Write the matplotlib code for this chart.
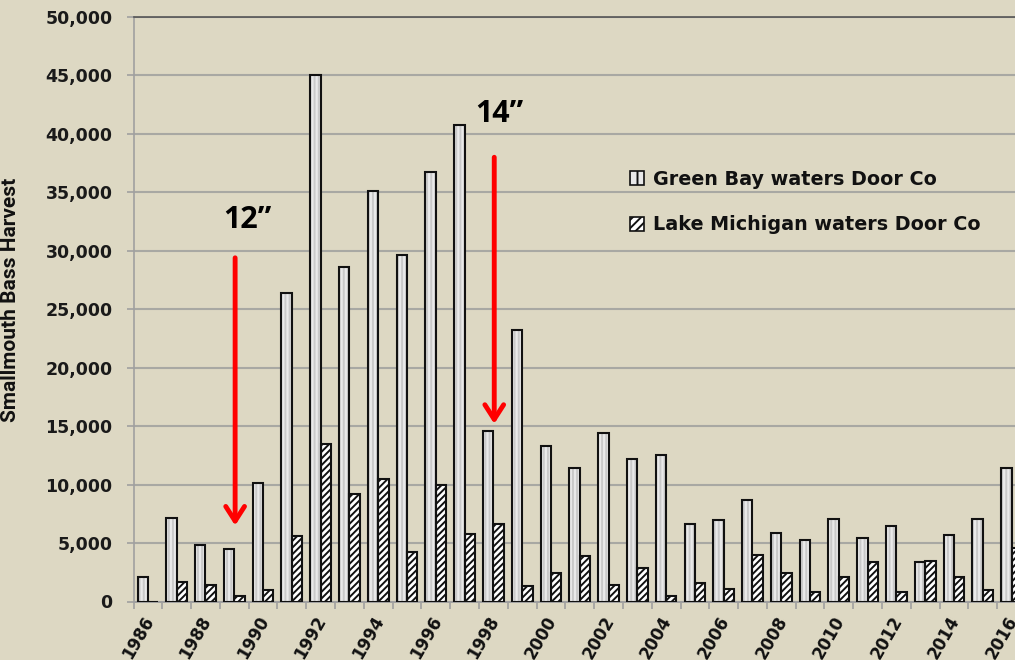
import matplotlib
matplotlib.use("Agg")
import matplotlib.pyplot as plt
import numpy as np
from matplotlib.patches import Patch
from matplotlib.ticker import FuncFormatter, FixedLocator
import matplotlib.transforms as mtrans

years = list(range(1986, 2017))
green_bay = [2100, 7150, 4850, 4450, 10150, 26400, 45000, 28600, 35150, 29600,
             36700, 40750, 14600, 23200, 13300, 11450, 14400, 12200, 12550, 6600,
             6950, 8650, 5850, 5250, 7030, 5400, 6500, 3350, 5700, 7100, 11400]
lake_michigan = [0, 1650, 1400, 480, 1000, 5600, 13450, 9200, 10450, 4250,
                 10000, 5800, 6600, 1300, 2400, 3900, 1450, 2900, 450, 1600,
                 1100, 3950, 2450, 780, 2060, 3350, 780, 3500, 2060, 950, 4550]
labels = ["Green Bay waters Door Co", "Lake Michigan waters Door Co"]
y_ticks = list(range(0, 50001, 5000))
x_label_years = list(range(1986, 2017, 2))

BG = "#DDD8C3"
plt.rcParams['hatch.linewidth'] = 1.4

W, H = 1015, 660
fig = plt.figure(figsize=(W / 100, H / 100), dpi=100)
fig.patch.set_facecolor(BG)
left_px, right_px, top_px, bot_px = 133.5, 1026, 17, 601.5
ax = fig.add_axes([left_px / W, (H - bot_px) / H, (right_px - left_px) / W, (bot_px - top_px) / H])
ax.set_facecolor(BG)

x = np.arange(len(years))
bw = 0.36
ax.bar(x - 0.18, green_bay, width=bw, color="#E9E9E9", edgecolor="#C9C9C9",
       hatch="||||", linewidth=0, zorder=3)
ax.bar(x - 0.18, green_bay, width=bw, fill=False, edgecolor="#111111", linewidth=1.5, zorder=4)
ax.bar(x + 0.18, lake_michigan, width=bw, color="white", edgecolor="#111111",
       hatch="/////", linewidth=1.5, zorder=3)

ax.set_xlim(-0.5, len(years) - 0.5)
ax.set_ylim(0, 50000)

ax.yaxis.set_major_locator(FixedLocator(y_ticks))
ax.grid(axis="y", color="#A8A8A3", linewidth=1.5, zorder=0)
ax.set_axisbelow(True)

ax.spines["right"].set_visible(False)
ax.spines["top"].set_color("#555555")
ax.spines["top"].set_linewidth(1.2)
ax.spines["left"].set_color("#A0A0A0")
ax.spines["left"].set_linewidth(1.2)
ax.spines["bottom"].set_color("#A0A0A0")
ax.spines["bottom"].set_linewidth(1.4)

ax.yaxis.set_major_formatter(FuncFormatter(lambda v, p: f"{int(v):,}"))
ax.tick_params(axis="y", length=5, color="#A0A0A0", width=1.2, pad=10,
               labelsize=12.5, labelcolor="#1a1a1a")
for t in ax.get_yticklabels():
    t.set_fontweight("bold")
    t.set_family("DejaVu Sans")

ax.set_xticks([i + 0.5 for i in range(-1, len(years))], minor=True)
ax.tick_params(axis="x", which="minor", length=5, color="#A0A0A0", width=1.2)
pos = [years.index(y) for y in x_label_years]
ax.set_xticks(pos)
ax.set_xticklabels([str(y) for y in x_label_years], rotation=60, ha="right",
                   rotation_mode="anchor", fontsize=12, fontweight="bold", color="#111111")
ax.tick_params(axis="x", which="major", length=0, pad=8)
offset = mtrans.ScaledTranslation(-6 / 100, 0, fig.dpi_scale_trans)
for t in ax.get_xticklabels():
    t.set_transform(t.get_transform() + offset)

ax.set_ylabel("Smallmouth Bass Harvest", fontsize=15, fontweight="bold",
              family="Roboto", color="#111111")
ax.yaxis.set_label_coords((20 - left_px) / (right_px - left_px), 0.516)

for xa, y0, y1, txt, tx, ty in [(3.03, 29400, 6500, "12\u201d", 3.45, 32600),
                                (12.03, 38000, 15200, "14\u201d", 12.2, 41700)]:
    ax.annotate("", xy=(xa, y1), xytext=(xa, y0),
                arrowprops=dict(arrowstyle="->,head_length=0.7,head_width=0.45",
                                color="#FF0000", lw=3.5, mutation_scale=15,
                                shrinkA=0, shrinkB=0), zorder=6)
    ax.text(tx, ty, txt, fontsize=22, fontweight="bold", family="Open Sans",
            ha="center", va="center", color="black", zorder=6)

handles = [Patch(facecolor="#E9E9E9", edgecolor="#111111", hatch="||", linewidth=1.2),
           Patch(facecolor="white", edgecolor="#111111", hatch="////", linewidth=1.2)]
leg = fig.legend(handles, labels, loc="upper left", bbox_to_anchor=(622 / W, 1 - 162 / H),
                 frameon=False, prop=dict(family="DejaVu Sans", weight="bold", size=13.8),
                 handlelength=0.75, handleheight=0.75, handletextpad=0.45,
                 labelspacing=1.4, borderaxespad=0)
for t in leg.get_texts():
    t.set_color("#111111")

fig.savefig("out.png", dpi=100, facecolor=BG)
